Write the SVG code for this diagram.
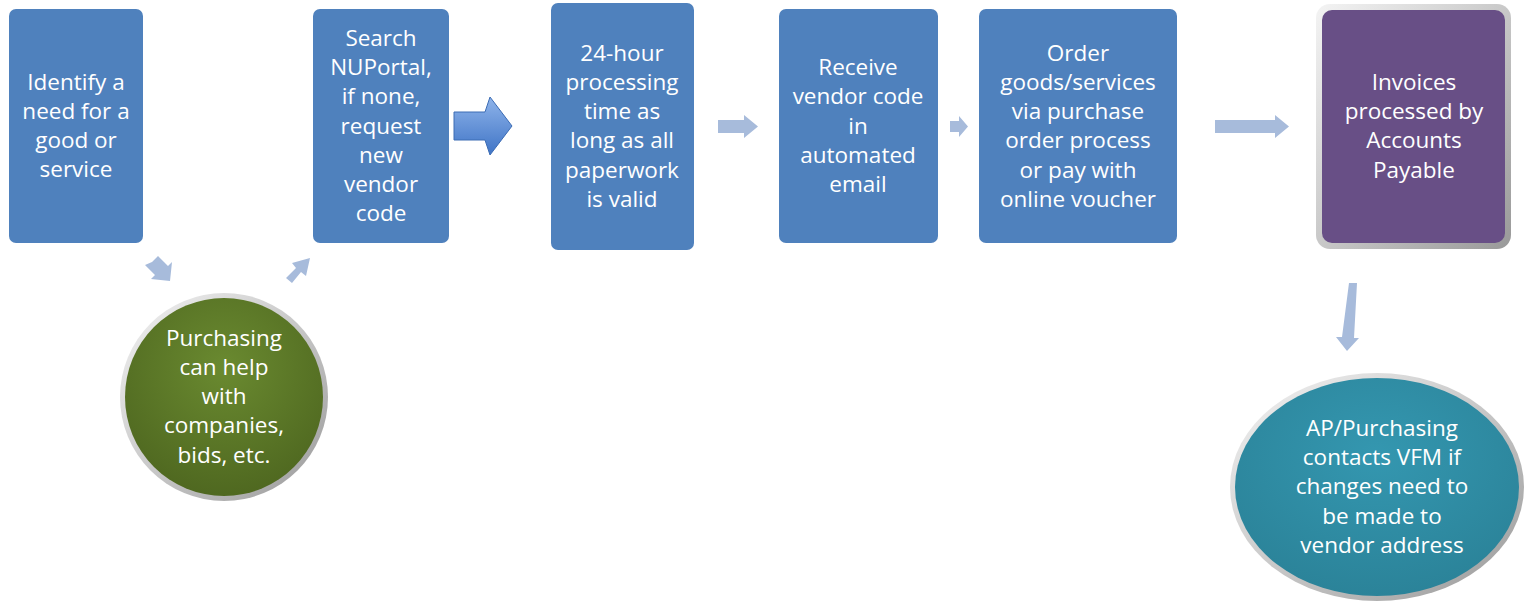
<svg xmlns="http://www.w3.org/2000/svg" width="1525" height="601" viewBox="0 0 1525 601">
<style>
.box{fill:#4f81bd}
.t{font-family:"Open Sans","Liberation Sans",sans-serif;font-size:22.5px;fill:#fff;text-anchor:middle}
.arr{fill:#a7bbdb}
</style>
<defs>
<radialGradient id="gGreen" cx="0.5" cy="0.35" r="0.65">
<stop offset="0" stop-color="#6a8a30"/><stop offset="1" stop-color="#4f6820"/>
</radialGradient>
<radialGradient id="gTeal" cx="0.5" cy="0.35" r="0.65">
<stop offset="0" stop-color="#3497b0"/><stop offset="1" stop-color="#2b8399"/>
</radialGradient>
<linearGradient id="gRim" x1="0" y1="0" x2="1" y2="1">
<stop offset="0" stop-color="#f4f4f4"/><stop offset="0.5" stop-color="#c8c8c8"/><stop offset="1" stop-color="#999"/>
</linearGradient>
<linearGradient id="gBig" x1="0" y1="0" x2="0" y2="1">
<stop offset="0" stop-color="#8fb4ea"/><stop offset="1" stop-color="#3f74c6"/>
</linearGradient>
</defs>
<g id="connectors">
<path id="a1" d="M490 97 L512 126 L490 155 L485 140 L454 140 L454 112 L485 112 Z" fill="url(#gBig)" stroke="#3c6cb4" stroke-width="1"/>
<path class="arr" d="M718 120 L744 120 L744 115 L758 126.5 L744 138 L744 133 L718 133 Z"/>
<path class="arr" d="M950 121 L959 121 L959 116 L968 126.5 L959 137 L959 132 L950 132 Z"/>
<path class="arr" d="M1215 120 L1275 120 L1275 115 L1289 126.5 L1275 138 L1275 133 L1215 133 Z"/>
<path class="arr" d="M146 263 L152 257 L162 267 L166 263 L164 282 L145 280 L149 276 L139 266 Z" transform="translate(6,-1)"/>
<path class="arr" d="M286 278 L296 268 L292 263 L310 258 L306 276 L301 272 L292 283 Z"/>
<path class="arr" d="M1350 283 L1358 283 L1355 338 L1360 338 L1348 351 L1337 337 L1343 337 Z" transform="translate(-1,0)"/>
</g>
<g id="n1"><rect class="box" x="9" y="9" width="134" height="234" rx="7"/>
<text class="t"><tspan x="76" y="90">Identify a</tspan><tspan x="76" y="119">need for a</tspan><tspan x="76" y="148">good or</tspan><tspan x="76" y="177">service</tspan></text></g>
<g id="n2"><rect class="box" x="313" y="9" width="136" height="234" rx="7"/>
<text class="t"><tspan x="381" y="46">Search</tspan><tspan x="381" y="75">NUPortal,</tspan><tspan x="381" y="104">if none,</tspan><tspan x="381" y="134">request</tspan><tspan x="381" y="163">new</tspan><tspan x="381" y="192">vendor</tspan><tspan x="381" y="221">code</tspan></text></g>
<g id="n3"><rect class="box" x="551" y="3" width="143" height="247" rx="7"/>
<text class="t"><tspan x="622" y="61">24-hour</tspan><tspan x="622" y="90">processing</tspan><tspan x="622" y="119">time as</tspan><tspan x="622" y="148">long as all</tspan><tspan x="622" y="178">paperwork</tspan><tspan x="622" y="207">is valid</tspan></text></g>
<g id="n4"><rect class="box" x="779" y="9" width="159" height="234" rx="7"/>
<text class="t"><tspan x="858" y="75">Receive</tspan><tspan x="858" y="104">vendor code</tspan><tspan x="858" y="134">in</tspan><tspan x="858" y="163">automated</tspan><tspan x="858" y="192">email</tspan></text></g>
<g id="n5"><rect class="box" x="979" y="9" width="198" height="234" rx="7"/>
<text class="t"><tspan x="1078" y="61">Order</tspan><tspan x="1078" y="90">goods/services</tspan><tspan x="1078" y="119">via purchase</tspan><tspan x="1078" y="148">order process</tspan><tspan x="1078" y="178">or pay with</tspan><tspan x="1078" y="207">online voucher</tspan></text></g>
<g id="n6"><rect x="1316" y="4" width="195" height="245" rx="14" fill="url(#gRim)"/>
<rect x="1322" y="10" width="183" height="233" rx="10" fill="#684f86"/>
<text class="t"><tspan x="1414" y="90">Invoices</tspan><tspan x="1414" y="119">processed by</tspan><tspan x="1414" y="148">Accounts</tspan><tspan x="1414" y="178">Payable</tspan></text></g>
<g id="n7"><circle cx="224" cy="397" r="104" fill="url(#gRim)"/>
<circle cx="224" cy="397" r="99" fill="url(#gGreen)"/>
<text class="t"><tspan x="224" y="346">Purchasing</tspan><tspan x="224" y="375">can help</tspan><tspan x="224" y="404">with</tspan><tspan x="224" y="433">companies,</tspan><tspan x="224" y="463">bids, etc.</tspan></text></g>
<g id="n8"><ellipse cx="1377" cy="487" rx="147" ry="114" fill="url(#gRim)"/>
<ellipse cx="1377" cy="487" rx="142" ry="109" fill="url(#gTeal)"/>
<text class="t"><tspan x="1382" y="436">AP/Purchasing</tspan><tspan x="1382" y="465">contacts VFM if</tspan><tspan x="1382" y="494">changes need to</tspan><tspan x="1382" y="524">be made to</tspan><tspan x="1382" y="553">vendor address</tspan></text></g>
</svg>
